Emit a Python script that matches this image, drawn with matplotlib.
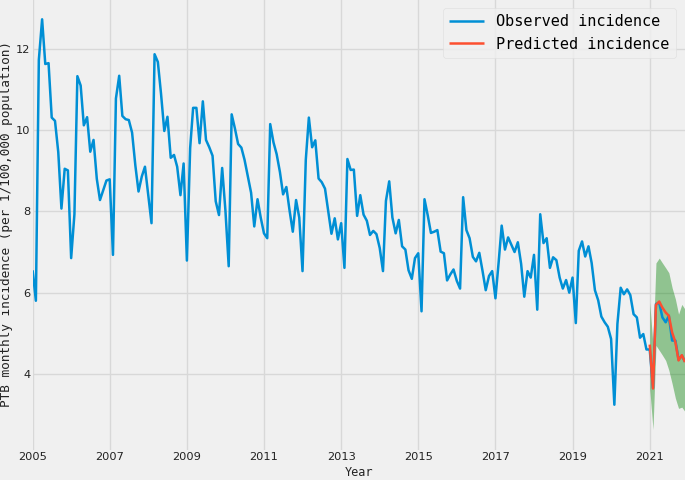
import matplotlib
matplotlib.use("Agg")
import matplotlib.pyplot as plt
import matplotlib.dates as mdates
import pandas as pd
import numpy as np

plt.style.use("fivethirtyeight")

obs_2005 = [6.55, 5.8, 11.73, 12.73, 11.63, 11.65, 10.31, 10.23, 9.46, 8.07, 9.05, 9.01]
obs_2006 = [6.85, 7.93, 11.33, 11.1, 10.12, 10.32, 9.47, 9.76, 8.8, 8.28, 8.52, 8.76]
obs_2007 = [8.79, 6.93, 10.78, 11.34, 10.35, 10.27, 10.25, 9.94, 9.13, 8.49, 8.86, 9.1]
obs_2008 = [8.4, 7.71, 11.87, 11.68, 10.9, 9.98, 10.33, 9.32, 9.39, 9.1, 8.4, 9.18]
obs_2009 = [6.79, 9.56, 10.55, 10.55, 9.68, 10.71, 9.76, 9.58, 9.37, 8.25, 7.91, 9.07]
obs_2010 = [8.02, 6.65, 10.39, 10.04, 9.66, 9.57, 9.27, 8.87, 8.46, 7.63, 8.3, 7.85]
obs_2011 = [7.46, 7.34, 10.15, 9.7, 9.41, 8.97, 8.42, 8.6, 8.01, 7.5, 8.28, 7.85]
obs_2012 = [6.53, 9.27, 10.31, 9.58, 9.75, 8.81, 8.72, 8.56, 8.0, 7.45, 7.83, 7.31]
obs_2013 = [7.71, 6.61, 9.29, 9.02, 9.03, 7.89, 8.4, 7.92, 7.77, 7.42, 7.52, 7.44]
obs_2014 = [7.1, 6.53, 8.26, 8.74, 7.85, 7.46, 7.79, 7.14, 7.06, 6.55, 6.34, 6.85]
obs_2015 = [6.97, 5.54, 8.3, 7.9, 7.47, 7.5, 7.54, 7.01, 6.97, 6.3, 6.45, 6.57]
obs_2016 = [6.29, 6.1, 8.35, 7.54, 7.34, 6.88, 6.77, 6.98, 6.53, 6.06, 6.41, 6.53]
obs_2017 = [5.86, 6.77, 7.65, 7.06, 7.36, 7.18, 7.0, 7.24, 6.71, 5.9, 6.53, 6.37]
obs_2018 = [6.93, 5.58, 7.93, 7.22, 7.34, 6.61, 6.87, 6.8, 6.37, 6.1, 6.31, 6.0]
obs_2019 = [6.37, 5.25, 7.03, 7.26, 6.89, 7.14, 6.73, 6.06, 5.81, 5.41, 5.27, 5.16]
obs_2020 = [4.86, 3.24, 5.23, 6.12, 5.96, 6.08, 5.94, 5.47, 5.39, 4.89, 4.98, 4.6]
obs_2021 = [4.6, 3.65, 5.72, 5.75, 5.39, 5.27, 5.43, 4.82, 4.82, 4.35, 4.45, 4.3]

pred_2021 = [4.72, 3.64, 5.7, 5.78, 5.63, 5.51, 5.43, 5.02, 4.78, 4.33, 4.46, 4.29]
upper_2021 = [5.76, 4.7, 6.73, 6.85, 6.73, 6.61, 6.49, 6.12, 5.84, 5.47, 5.71, 5.59]
lower_2021 = [3.64, 2.63, 4.7, 4.58, 4.46, 4.33, 4.09, 3.76, 3.4, 3.15, 3.18, 3.07]

tick_years = [2005, 2007, 2009, 2011, 2013, 2015, 2017, 2019, 2021]
y_ticks = [4, 6, 8, 10, 12]

observed = (obs_2005 + obs_2006 + obs_2007 + obs_2008 + obs_2009 + obs_2010 +
            obs_2011 + obs_2012 + obs_2013 + obs_2014 + obs_2015 + obs_2016 +
            obs_2017 + obs_2018 + obs_2019 + obs_2020 + obs_2021)
obs_dates = pd.date_range("2005-01-01", periods=len(observed), freq="MS")
pred_dates = pd.date_range("2021-01-01", periods=len(pred_2021), freq="MS")

fig = plt.figure(figsize=(6.85, 4.8), dpi=100)
fig.patch.set_facecolor("#f0f0f0")
ax = fig.add_axes([0.0476, 0.0625, 0.9524, 0.94])
ax.set_facecolor("#f0f0f0")

ax.fill_between(pred_dates, lower_2021, upper_2021, color="green", alpha=0.4,
                linewidth=0, zorder=2)
ax.plot(obs_dates, observed, color="#008fd5", lw=1.8, label="Observed incidence", zorder=3)
ax.plot(pred_dates, pred_2021, color="#fc4f30", lw=1.8, label="Predicted incidence", zorder=4)

ax.set_xlim(obs_dates[0], obs_dates[-1])
ax.set_ylim(2.125, 13.235)
ax.set_yticks(y_ticks)
ax.set_xticks([pd.Timestamp(f"{y}-01-01") for y in tick_years])
ax.xaxis.set_major_formatter(mdates.DateFormatter("%Y"))
ax.grid(True, color="#d8d8d8", lw=1)
for s in ax.spines.values():
    s.set_visible(False)
ax.tick_params(axis="both", length=0, labelsize=8.2, pad=1.5, colors="#222222")

mono = "DejaVu Sans Mono"
ax.set_ylabel("PTB monthly incidence (per 1/100,000 population)", family=mono,
              fontsize=9.2, labelpad=2, color="#222222")
fig.text(0.5238, 0.002, "Year", ha="center", va="bottom", family=mono,
         fontsize=8.6, color="#222222")

leg = ax.legend(loc="upper right", prop={"family": mono, "size": 11},
                handlelength=2.3, frameon=True, borderaxespad=0.6)
leg.get_frame().set_edgecolor("#dddddd")
leg.get_frame().set_facecolor("#f0f0f0")

fig.savefig("out.png", dpi=100, facecolor=fig.get_facecolor())
